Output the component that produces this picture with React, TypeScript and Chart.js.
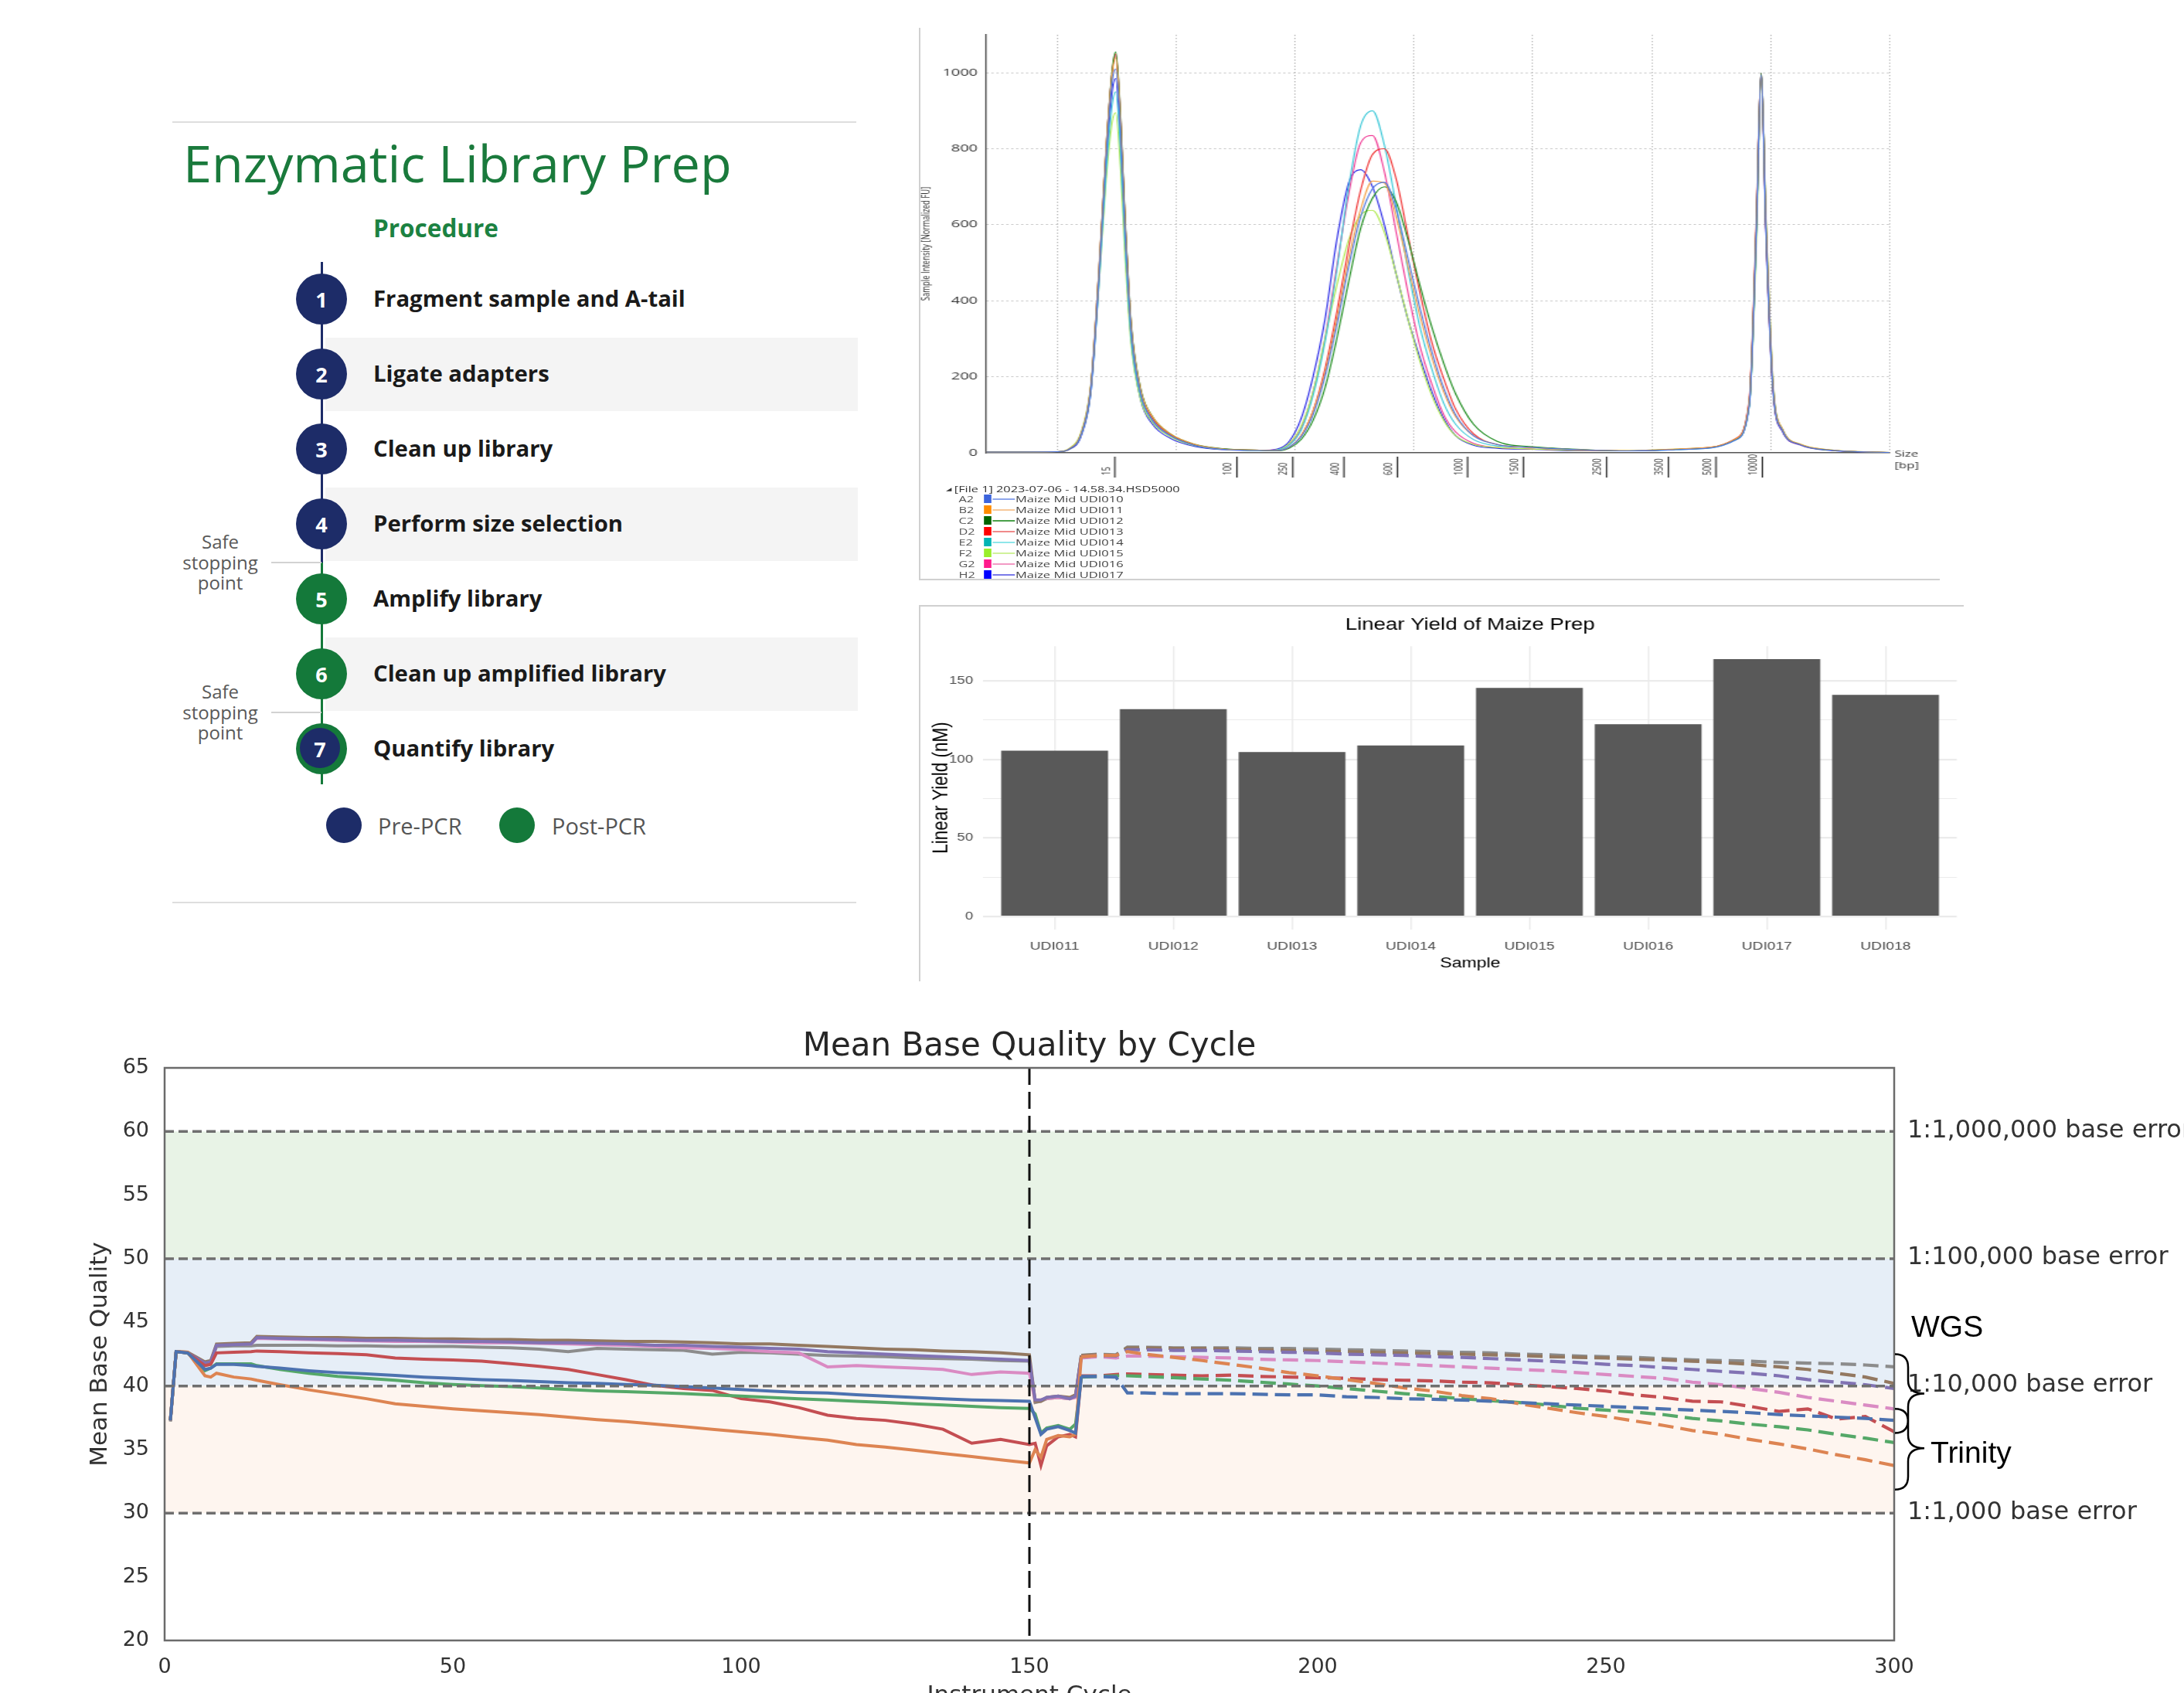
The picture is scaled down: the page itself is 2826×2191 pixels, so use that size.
import React, { useEffect, useRef } from 'react';
import { Chart, registerables } from 'chart.js';

Chart.register(...registerables);

const OPEN = '"Open Sans", "Noto Sans", sans-serif';
const LIB = '"Liberation Sans", Arial, sans-serif';
const DEJ = '"DejaVu Sans", sans-serif';

/* ================= Procedure panel ================= */
const PROC_TITLE = 'Enzymatic Library Prep';
const PROC_SUB = 'Procedure';
const PROC_STEPS = [
  'Fragment sample and A-tail',
  'Ligate adapters',
  'Clean up library',
  'Perform size selection',
  'Amplify library',
  'Clean up amplified library',
  'Quantify library',
];
const PROC_PHASE = ['pre', 'pre', 'pre', 'pre', 'post', 'post', 'both'];
const PROC_SAFE_AFTER = [3, 5];
const PROC_LEGEND = ['Pre-PCR', 'Post-PCR'];

/* ================= Electropherogram ================= */
const EP_FILE = '[File 1] 2023-07-06 - 14.58.34.HSD5000';
const EP_WELLS = ['A2', 'B2', 'C2', 'D2', 'E2', 'F2', 'G2', 'H2'];
const EP_SAMPLES = [
  'Maize Mid UDI010', 'Maize Mid UDI011', 'Maize Mid UDI012', 'Maize Mid UDI013',
  'Maize Mid UDI014', 'Maize Mid UDI015', 'Maize Mid UDI016', 'Maize Mid UDI017',
];
const EP_LADDER_BP = ['15', '100', '250', '400', '600', '1000', '1500', '2500', '3500', '5000', '10000'];
const EP_LADDER_POS = [4.83, 15.1, 19.8, 24.1, 28.6, 34.5, 39.2, 46.2, 51.4, 55.4, 59.3];
const EP_GRID_X = [0, 10, 20, 30, 40, 50, 60, 70];
const EP_Y_TICKS = [0, 200, 400, 600, 800, 1000];
const EP_X = [
  -6, 0, 1, 2, 2.8, 3.5, 4.1, 4.6, 4.9, 5.3, 5.7, 6.2, 7, 8, 9.5, 11.5, 14, 17,
  18.5, 19.5, 20.5, 21.5, 22.5, 23.5, 24.5, 25.5, 26.5, 27.5, 28.5, 29.5, 30.5, 31.5, 32.5, 33.5, 35, 37, 40, 44,
  48, 52, 55, 57, 58.2, 58.8, 59.2, 59.6, 60.2, 61, 62.5, 65, 70,
];
const EP_A2 = [
  2, 3, 10, 48, 165, 465, 780, 975, 1010, 850, 580, 320, 155, 85, 45, 20, 9, 6,
  6, 15, 42, 100, 200, 335, 490, 620, 695, 712, 640, 510, 380, 265, 170, 100, 45, 22, 14, 8,
  5, 8, 13, 33, 125, 590, 995, 590, 165, 58, 21, 7, 1,
];
const EP_B2 = [
  2, 3, 11, 52, 175, 485, 805, 995, 1040, 875, 600, 335, 165, 95, 50, 23, 10, 7,
  6, 15, 45, 110, 210, 350, 510, 640, 715, 710, 620, 490, 360, 250, 160, 95, 45, 22, 14, 8,
  6, 10, 15, 36, 135, 610, 990, 620, 180, 62, 23, 8, 1,
];
const EP_C2 = [
  2, 3, 10, 50, 170, 480, 800, 1005, 1055, 890, 610, 340, 168, 95, 50, 23, 11, 7,
  5, 12, 35, 85, 170, 300, 450, 590, 670, 700, 660, 560, 440, 330, 235, 155, 75, 30, 16, 9,
  5, 9, 14, 35, 130, 600, 1000, 600, 170, 60, 22, 7, 1,
];
const EP_D2 = [
  2, 3, 10, 50, 168, 475, 795, 1000, 1050, 885, 605, 335, 165, 92, 48, 22, 10, 7,
  6, 15, 45, 110, 220, 370, 540, 690, 785, 800, 720, 570, 420, 290, 195, 115, 50, 22, 14, 8,
  5, 9, 15, 37, 140, 620, 998, 590, 165, 58, 21, 7, 1,
];
const EP_E2 = [
  2, 3, 10, 48, 160, 450, 740, 915, 950, 800, 545, 300, 150, 85, 45, 20, 9, 6,
  8, 20, 60, 150, 290, 480, 700, 860, 900, 810, 650, 480, 330, 220, 130, 75, 35, 18, 14, 8,
  5, 8, 13, 33, 125, 590, 1000, 610, 175, 60, 22, 7, 1,
];
const EP_F2 = [
  2, 3, 12, 55, 175, 450, 720, 870, 895, 750, 510, 285, 140, 80, 42, 19, 9, 6,
  8, 25, 70, 160, 300, 440, 560, 625, 638, 580, 470, 350, 240, 150, 85, 45, 22, 14, 10, 6,
  6, 10, 15, 36, 130, 560, 985, 620, 180, 62, 23, 8, 1,
];
const EP_G2 = [
  2, 3, 10, 50, 170, 480, 800, 1000, 1045, 880, 600, 330, 160, 90, 48, 22, 10, 7,
  8, 22, 65, 160, 300, 490, 680, 815, 835, 740, 580, 420, 280, 180, 100, 55, 25, 14, 10, 6,
  5, 9, 14, 35, 135, 605, 1000, 600, 170, 58, 21, 7, 1,
];
const EP_H2 = [
  2, 3, 9, 45, 160, 460, 770, 950, 985, 820, 550, 300, 140, 75, 38, 17, 8, 6,
  10, 30, 90, 200, 350, 560, 710, 745, 700, 600, 470, 350, 250, 160, 90, 45, 20, 12, 9, 5,
  5, 9, 14, 34, 130, 600, 995, 580, 160, 55, 20, 6, 1,
];
const EP_SERIES = [EP_A2, EP_B2, EP_C2, EP_D2, EP_E2, EP_F2, EP_G2, EP_H2];
const EP_LINE = ['#4f78e0', '#f5a24a', '#1e8c1e', '#f03232', '#3cc8d8', '#b2ea52', '#f03c96', '#2a2ae6'];
const EP_SWATCH = ['#3c64dc', '#ff8c00', '#006400', '#ff0000', '#00b4b4', '#9aee2a', '#ff1a8c', '#0000ff'];
const EP_LEG_LINE = ['#8fa6ec', '#f6c89a', '#4aa04a', '#f08a8a', '#8ee6ea', '#d0f29a', '#f29ac4', '#7a7ae8'];

/* ================= Bar chart ================= */
const BAR_TITLE = 'Linear Yield of Maize Prep';
const BAR_SAMPLES = ['UDI011', 'UDI012', 'UDI013', 'UDI014', 'UDI015', 'UDI016', 'UDI017', 'UDI018'];
const BAR_YIELD = [105.5, 132, 104.7, 108.8, 145.5, 122.3, 163.8, 141.1];
const BAR_Y_TICKS = [0, 25, 50, 75, 100, 125, 150];

/* ================= Mean base quality ================= */
const Q_TITLE = 'Mean Base Quality by Cycle';
const Q_R1_X = [1, 2, 4, 7, 8, 9, 12, 15, 16, 20, 25, 30, 35, 40, 45, 50, 55, 60, 65, 70, 75, 80, 85, 90, 95, 100, 105, 110, 115, 120, 125, 130, 135, 140, 145, 150];
const Q_IDX_X = [151, 152, 153, 155, 157, 158];
const Q_R2_X = [159, 162, 165, 167, 170, 175, 180, 185, 190, 195, 200, 205, 210, 215, 220, 225, 230, 235, 240, 245, 250, 255, 260, 265, 270, 275, 280, 285, 290, 295, 300];

const Q_BLUE_R1 = [37.3, 42.7, 42.6, 41.3, 41.4, 41.7, 41.7, 41.6, 41.55, 41.4, 41.2, 41.05, 40.95, 40.83, 40.7, 40.6, 40.5, 40.43, 40.35, 40.25, 40.2, 40.12, 40.05, 39.95, 39.85, 39.72, 39.6, 39.5, 39.45, 39.31, 39.2, 39.1, 39.0, 38.9, 38.85, 38.8];
const Q_ORANGE_R1 = [37.3, 42.7, 42.65, 40.8, 40.7, 41.0, 40.7, 40.55, 40.45, 40.1, 39.7, 39.35, 39.0, 38.6, 38.4, 38.2, 38.05, 37.9, 37.75, 37.55, 37.35, 37.2, 37.0, 36.8, 36.6, 36.4, 36.2, 35.95, 35.75, 35.4, 35.2, 34.95, 34.7, 34.45, 34.2, 33.95];
const Q_GREEN_R1 = [37.3, 42.7, 42.6, 41.2, 41.4, 41.74, 41.74, 41.74, 41.6, 41.3, 41.0, 40.75, 40.6, 40.45, 40.25, 40.12, 40.02, 39.95, 39.85, 39.72, 39.62, 39.55, 39.48, 39.4, 39.3, 39.2, 39.1, 39.0, 38.9, 38.8, 38.7, 38.6, 38.5, 38.4, 38.3, 38.24];
const Q_RED_R1 = [37.3, 42.7, 42.6, 41.6, 41.7, 42.6, 42.65, 42.7, 42.75, 42.7, 42.6, 42.55, 42.45, 42.2, 42.1, 42.05, 41.95, 41.75, 41.55, 41.3, 40.9, 40.5, 40.05, 39.8, 39.65, 39.0, 38.75, 38.3, 37.7, 37.45, 37.3, 37.0, 36.6, 35.5, 35.8, 35.4];
const Q_PURPLE_R1 = [37.3, 42.7, 42.6, 41.8, 41.9, 43.2, 43.25, 43.3, 43.8, 43.75, 43.7, 43.65, 43.6, 43.6, 43.55, 43.5, 43.5, 43.45, 43.4, 43.4, 43.35, 43.3, 43.2, 43.2, 43.1, 43.05, 42.95, 42.9, 42.7, 42.6, 42.5, 42.4, 42.3, 42.2, 42.1, 42.0];
const Q_BROWN_R1 = [37.3, 42.7, 42.65, 41.9, 42.0, 43.3, 43.35, 43.4, 43.9, 43.85, 43.8, 43.8, 43.75, 43.75, 43.7, 43.7, 43.65, 43.65, 43.6, 43.6, 43.55, 43.5, 43.5, 43.45, 43.4, 43.3, 43.3, 43.2, 43.1, 43.0, 42.9, 42.85, 42.75, 42.7, 42.6, 42.45];
const Q_PINK_R1 = [37.3, 42.7, 42.6, 41.8, 41.9, 43.2, 43.3, 43.3, 43.75, 43.7, 43.65, 43.6, 43.55, 43.5, 43.5, 43.45, 43.4, 43.4, 43.35, 43.3, 43.25, 43.2, 43.1, 43.0, 42.95, 42.85, 42.7, 42.6, 41.5, 41.6, 41.5, 41.4, 41.3, 40.9, 41.1, 41.0];
const Q_GRAY_R1 = [37.2, 42.7, 42.6, 41.8, 41.8, 43.1, 43.15, 43.15, 43.2, 43.2, 43.2, 43.15, 43.15, 43.1, 43.1, 43.1, 43.05, 43.0, 42.9, 42.7, 42.95, 42.9, 42.85, 42.8, 42.5, 42.65, 42.6, 42.5, 42.4, 42.35, 42.3, 42.2, 42.15, 42.1, 42.0, 41.95];

const Q_BLUE_IDX = [37.5, 36.2, 36.6, 36.8, 36.5, 36.3];
const Q_ORANGE_IDX = [35.0, 34.4, 35.8, 36.1, 36.0, 36.2];
const Q_GREEN_IDX = [37.8, 36.3, 36.7, 36.9, 36.6, 37.0];
const Q_RED_IDX = [35.5, 33.75, 35.3, 36.0, 36.2, 36.0];
const Q_PURPLE_IDX = [38.9, 38.9, 39.1, 39.2, 39.0, 39.2];
const Q_BROWN_IDX = [38.8, 38.8, 39.1, 39.2, 39.1, 39.3];
const Q_PINK_IDX = [38.8, 38.9, 39.0, 39.1, 39.0, 39.1];
const Q_GRAY_IDX = [38.7, 38.8, 39.0, 39.1, 39.0, 39.2];

const Q_BLUE_R2 = [40.75, 40.75, 40.7, 39.45, 39.45, 39.4, 39.4, 39.4, 39.35, 39.3, 39.3, 39.15, 39.1, 39.0, 38.95, 38.9, 38.8, 38.7, 38.6, 38.5, 38.4, 38.3, 38.2, 38.1, 38.0, 37.9, 37.75, 37.65, 37.55, 37.45, 37.3];
const Q_ORANGE_R2 = [42.3, 42.4, 42.4, 42.7, 42.5, 42.25, 42.0, 41.7, 41.4, 41.05, 40.8, 40.5, 40.2, 39.85, 39.6, 39.25, 39.0, 38.6, 38.25, 37.9, 37.6, 37.25, 36.9, 36.5, 36.2, 35.8, 35.45, 35.05, 34.6, 34.2, 33.75];
const Q_GREEN_R2 = [40.7, 40.75, 40.8, 40.8, 40.75, 40.65, 40.55, 40.45, 40.3, 40.15, 40.0, 39.8, 39.6, 39.4, 39.2, 39.0, 38.85, 38.7, 38.5, 38.25, 38.1, 37.95, 37.75, 37.45, 37.25, 37.0, 36.8, 36.55, 36.2, 35.9, 35.55];
const Q_RED_R2 = [40.8, 40.8, 40.9, 40.95, 40.9, 40.85, 40.8, 40.85, 40.75, 40.7, 40.65, 40.6, 40.5, 40.45, 40.4, 40.3, 40.25, 40.1, 39.95, 39.8, 39.6, 39.3, 39.1, 38.8, 38.75, 38.4, 38.0, 38.2, 37.4, 37.6, 36.4];
const Q_PURPLE_R2 = [42.3, 42.4, 42.35, 42.85, 42.85, 42.8, 42.8, 42.75, 42.7, 42.65, 42.6, 42.5, 42.45, 42.4, 42.3, 42.25, 42.15, 42.05, 41.95, 41.85, 41.7, 41.6, 41.45, 41.3, 41.15, 41.0, 40.8, 40.5, 40.3, 40.1, 39.8];
const Q_BROWN_R2 = [42.4, 42.45, 42.4, 43.0, 43.0, 42.95, 42.95, 42.9, 42.85, 42.8, 42.75, 42.7, 42.65, 42.6, 42.55, 42.5, 42.45, 42.4, 42.3, 42.25, 42.2, 42.1, 42.05, 41.95, 41.85, 41.7, 41.5, 41.3, 41.0, 40.7, 40.2];
const Q_PINK_R2 = [42.2, 42.3, 42.2, 42.35, 42.35, 42.3, 42.25, 42.2, 42.1, 42.05, 42.0, 41.9, 41.8, 41.7, 41.6, 41.5, 41.4, 41.3, 41.2, 41.05, 40.9, 40.75, 40.6, 40.3, 40.1, 39.8, 39.5, 39.1, 38.8, 38.5, 38.2];
const Q_GRAY_R2 = [42.4, 42.5, 42.45, 43.05, 43.05, 43.0, 43.0, 43.0, 42.95, 42.95, 42.9, 42.85, 42.8, 42.75, 42.7, 42.65, 42.6, 42.5, 42.45, 42.35, 42.3, 42.25, 42.15, 42.05, 42.0, 41.95, 41.85, 41.8, 41.75, 41.65, 41.5];

const Q_R1 = [Q_BLUE_R1, Q_ORANGE_R1, Q_GREEN_R1, Q_RED_R1, Q_PURPLE_R1, Q_BROWN_R1, Q_PINK_R1, Q_GRAY_R1];
const Q_IDX = [Q_BLUE_IDX, Q_ORANGE_IDX, Q_GREEN_IDX, Q_RED_IDX, Q_PURPLE_IDX, Q_BROWN_IDX, Q_PINK_IDX, Q_GRAY_IDX];
const Q_R2 = [Q_BLUE_R2, Q_ORANGE_R2, Q_GREEN_R2, Q_RED_R2, Q_PURPLE_R2, Q_BROWN_R2, Q_PINK_R2, Q_GRAY_R2];
const Q_COLORS = ['#4c72b0', '#dd8452', '#55a868', '#c44e52', '#8172b3', '#937860', '#da8bc3', '#8c8c8c'];

const Q_REF_VALUES = [60, 50, 40, 30];
const Q_REF_LABELS = ['1:1,000,000 base error', '1:100,000 base error', '1:10,000 base error', '1:1,000 base error'];
const Q_BAND_LO = [50, 40, 30];
const Q_BAND_HI = [60, 50, 40];
const Q_BAND_COLORS = ['#e8f3e6', '#e6eef7', '#fef5ef'];
const Q_READ_SPLIT = 150;
const Q_GROUPS = ['WGS', 'Trinity'];
const Q_GROUP_TOP = [42.5, 38.2];
const Q_GROUP_BOT = [36.3, 31.85];
const Q_GROUP_MID = [39.4, 35.1];
const Q_GROUP_LABEL_Y = [44.5, 34.6];

/* ================= Components ================= */

function Txt(props: any) {
  const { x, cy, size, weight = 400, color = '#000', family = OPEN, children } = props;
  return (
    <div
      style={{
        position: 'absolute', left: x, top: cy - 50, height: 100, display: 'flex', alignItems: 'center',
        fontFamily: family, fontSize: size, fontWeight: weight, color, lineHeight: 1, whiteSpace: 'nowrap',
      }}
    >
      {children}
    </div>
  );
}

function CTxt(props: any) {
  const { cx, cy, size, weight = 400, color = '#000', family = OPEN, children } = props;
  return (
    <div
      style={{
        position: 'absolute', left: cx - 150, width: 300, top: cy - 50, height: 100, display: 'flex',
        alignItems: 'center', justifyContent: 'center', fontFamily: family, fontSize: size, fontWeight: weight,
        color, lineHeight: 1, whiteSpace: 'nowrap',
      }}
    >
      {children}
    </div>
  );
}

function Box(props: any) {
  const { l, t, w, h, bg, r } = props;
  return <div style={{ position: 'absolute', left: l, top: t, width: w, height: h, background: bg, borderRadius: r }} />;
}

function Procedure() {
  const NAVY = '#1d2c68';
  const GREEN = '#14793a';
  const cx = 416;
  const y0 = 387;
  const dy = 97;
  const els: any[] = [];
  els.push(<Box key="hr1" l={223} t={157} w={885} h={2} bg="#dedede" />);
  els.push(<Box key="hr2" l={223} t={1167} w={885} h={2} bg="#dedede" />);
  els.push(<Txt key="title" x={237} cy={210} size={66.5} color="#1a7a3c">{PROC_TITLE}</Txt>);
  els.push(<Txt key="sub" x={483} cy={295} size={31.5} weight={700} color="#1c8242">{PROC_SUB}</Txt>);
  PROC_STEPS.forEach((s, i) => {
    const cy = y0 + i * dy;
    if (i % 2 === 1) els.push(<Box key={'bg' + i} l={421} t={cy - 47.5} w={689} h={95} bg="#f4f4f4" />);
  });
  const split = y0 + 3.5 * dy + 1;
  els.push(<Box key="vl1" l={cx - 1.5} t={339} w={3} h={split - 339} bg={NAVY} />);
  els.push(<Box key="vl2" l={cx - 1.5} t={split} w={3} h={1015 - split} bg={GREEN} />);
  PROC_SAFE_AFTER.forEach((k) => {
    const y = y0 + (k + 0.5) * dy + 1;
    els.push(<Box key={'sl' + k} l={351} t={y - 1} w={cx - 351} h={2} bg="#d2d2d2" />);
    ['Safe', 'stopping', 'point'].forEach((w, j) => {
      els.push(<CTxt key={'st' + k + j} cx={285} cy={y + (j - 1) * 26.5} size={24} color="#595959">{w}</CTxt>);
    });
  });
  PROC_STEPS.forEach((s, i) => {
    const cy = y0 + i * dy;
    const ph = PROC_PHASE[i];
    els.push(<Box key={'c' + i} l={cx - 33} t={cy - 33} w={66} h={66} r="50%" bg={ph === 'pre' ? NAVY : GREEN} />);
    if (ph === 'both') els.push(<Box key={'ci' + i} l={cx - 28} t={cy - 27} w={52} h={52} r="50%" bg={NAVY} />);
    els.push(<CTxt key={'n' + i} cx={cx - (ph === 'both' ? 2 : 0)} cy={cy} size={27} weight={700} color="#fff">{String(i + 1)}</CTxt>);
    els.push(<Txt key={'t' + i} x={483} cy={cy} size={29.3} weight={700} color="#1a1a1a">{s}</Txt>);
  });
  els.push(<Box key="lg1" l={445 - 23} t={1068 - 23} w={46} h={46} r="50%" bg={NAVY} />);
  els.push(<Txt key="lt1" x={489} cy={1068} size={29} color="#555">{PROC_LEGEND[0]}</Txt>);
  els.push(<Box key="lg2" l={669 - 23} t={1068 - 23} w={46} h={46} r="50%" bg={GREEN} />);
  els.push(<Txt key="lt2" x={714} cy={1068} size={29} color="#555">{PROC_LEGEND[1]}</Txt>);
  return <>{els}</>;
}

function Electro() {
  const ref = useRef<HTMLCanvasElement>(null);
  useEffect(() => {
    const ladderPlugin = {
      id: 'ladder',
      afterDraw(chart: any) {
        const { ctx, chartArea: a, scales } = chart;
        const x = scales.x;
        ctx.save();
        ctx.strokeStyle = '#222';
        ctx.lineWidth = 1.1;
        EP_LADDER_POS.forEach((p, i) => {
          const px = x.getPixelForValue(p);
          ctx.beginPath();
          ctx.moveTo(px, a.bottom + 5);
          ctx.lineTo(px, a.bottom + 32);
          ctx.stroke();
          ctx.save();
          ctx.translate(px - 7, a.bottom + 29);
          ctx.rotate(-Math.PI / 2);
          ctx.font = '9.5px ' + OPEN;
          ctx.fillStyle = '#333';
          ctx.textAlign = 'left';
          ctx.textBaseline = 'middle';
          ctx.fillText(EP_LADDER_BP[i], 0, 0);
          ctx.restore();
        });
        ctx.font = '10.5px ' + OPEN;
        ctx.fillStyle = '#333';
        ctx.textAlign = 'left';
        ctx.textBaseline = 'middle';
        ctx.fillText('Size', a.right + 4, a.bottom + 2);
        ctx.fillText('[bp]', a.right + 4, a.bottom + 17);
        ctx.restore();
      },
    };
    const chart = new Chart(ref.current as HTMLCanvasElement, {
      type: 'line',
      data: {
        datasets: EP_SERIES.map((ys, i) => ({
          label: EP_SAMPLES[i],
          data: EP_X.map((x, j) => ({ x, y: ys[j] })),
          borderColor: EP_LINE[i],
          borderWidth: 1.1,
          pointRadius: 0,
          fill: false,
          cubicInterpolationMode: 'monotone',
        })),
      },
      options: {
        animation: false,
        responsive: false,
        devicePixelRatio: 1,
        layout: { padding: { top: 15, right: 46.6, left: 0, bottom: 0 } },
        plugins: { legend: { display: false }, tooltip: { enabled: false } },
        scales: {
          x: {
            type: 'linear', min: -6, max: 70,
            afterBuildTicks: (s: any) => { s.ticks = EP_GRID_X.map((v) => ({ value: v })); },
            afterFit: (s: any) => { s.height = 164; },
            ticks: { display: false },
            grid: { color: '#b9b9b9', lineWidth: 1, drawTicks: false },
            border: { display: true, color: '#555', width: 1.6, dash: [1.5, 2.5] },
          },
          y: {
            min: 0, max: 1100,
            afterBuildTicks: (s: any) => { s.ticks = EP_Y_TICKS.map((v) => ({ value: v })); },
            afterFit: (s: any) => { s.width = 53.75; },
            ticks: { callback: (v: any) => String(v), font: { family: OPEN, size: 12.5 }, color: '#333', padding: 6.75 },
            grid: { color: (c: any) => (c.tick && c.tick.value === 0 ? 'rgba(0,0,0,0)' : '#b9b9b9'), lineWidth: 1, drawTicks: false },
            border: { display: true, color: '#555', width: 1.2, dash: [1.5, 2.5] },
            title: { display: true, text: 'Sample Intensity [Normalized FU]', font: { family: OPEN, size: 9.5 }, color: '#333', padding: { top: 0, bottom: 0 } },
          },
        },
      } as any,
      plugins: [ladderPlugin],
    } as any);
    return () => chart.destroy();
  }, []);
  return (
    <div style={{ position: 'absolute', left: 1190, top: 30, width: 831, height: 720, transform: 'scaleX(1.6)', transformOrigin: '0 0' }}>
      <canvas ref={ref} width={831} height={720} style={{ display: 'block' }} />
      <div style={{ position: 'absolute', left: 21, top: 603 - 8, height: 16, display: 'flex', alignItems: 'center', fontFamily: OPEN, fontSize: 10.2, color: '#333', whiteSpace: 'nowrap', lineHeight: 1 }}>
        <span style={{ fontSize: 6, marginRight: 2 }}>◢</span>
        {EP_FILE}
      </div>
      {EP_WELLS.map((w, i) => {
        const cy = 615.8 + i * 14;
        return (
          <React.Fragment key={w}>
            <div style={{ position: 'absolute', left: 31.5, top: cy - 8, height: 16, display: 'flex', alignItems: 'center', fontFamily: OPEN, fontSize: 10.2, color: '#555', lineHeight: 1 }}>{w}</div>
            <div style={{ position: 'absolute', left: 52, top: cy - 5.5, width: 5.5, height: 11, background: EP_SWATCH[i] }} />
            <div style={{ position: 'absolute', left: 59, top: cy - 0.9, width: 18, height: 1.8, background: EP_LEG_LINE[i] }} />
            <div style={{ position: 'absolute', left: 77.5, top: cy - 8, height: 16, display: 'flex', alignItems: 'center', fontFamily: OPEN, fontSize: 10.3, color: '#444', whiteSpace: 'nowrap', lineHeight: 1 }}>{EP_SAMPLES[i]}</div>
          </React.Fragment>
        );
      })}
    </div>
  );
}

function YieldBars() {
  const ref = useRef<HTMLCanvasElement>(null);
  useEffect(() => {
    const titlePlugin = {
      id: 'barTitle',
      afterDraw(chart: any) {
        const { ctx, chartArea: a } = chart;
        ctx.save();
        ctx.font = '21.6px ' + LIB;
        ctx.fillStyle = '#000';
        ctx.textAlign = 'center';
        ctx.textBaseline = 'middle';
        ctx.fillText(BAR_TITLE, (a.left + a.right) / 2, 25);
        ctx.restore();
      },
    };
    const chart = new Chart(ref.current as HTMLCanvasElement, {
      type: 'bar',
      data: {
        datasets: [{
          label: 'Linear Yield',
          data: BAR_YIELD.map((v, i) => ({ x: i + 1, y: v })),
          backgroundColor: '#595959',
          borderWidth: 0,
          barPercentage: 0.9,
          categoryPercentage: 1,
        }],
      },
      options: {
        animation: false,
        responsive: false,
        devicePixelRatio: 1,
        layout: { padding: { top: 52.3, right: 6.6, left: 0, bottom: 11.8 } },
        plugins: { legend: { display: false }, tooltip: { enabled: false } },
        scales: {
          x: {
            type: 'linear', min: 0.4, max: 8.6, offset: false,
            afterBuildTicks: (s: any) => { s.ticks = BAR_SAMPLES.map((_, i) => ({ value: i + 1 })); },
            afterFit: (s: any) => { s.height = 55.5; },
            ticks: {
              callback: (v: any) => BAR_SAMPLES[Math.round(v) - 1],
              font: { family: LIB, size: 15 }, color: '#4d4d4d', padding: 13.5, maxRotation: 0, autoSkip: false,
            },
            grid: { color: '#ebebeb', lineWidth: 1.5, drawTicks: false, offset: false },
            border: { display: false },
            title: { display: true, text: 'Sample', font: { family: LIB, size: 18 }, color: '#000', padding: { top: 0, bottom: 0 } },
          },
          y: {
            min: -8.2, max: 172,
            afterBuildTicks: (s: any) => { s.ticks = BAR_Y_TICKS.map((v) => ({ value: v })); },
            afterFit: (s: any) => { s.width = 64.4; },
            ticks: {
              callback: (v: any) => (v % 50 === 0 ? String(v) : ''),
              font: { family: LIB, size: 14.5 }, color: '#4d4d4d', padding: 10.4, autoSkip: false,
            },
            grid: { color: '#ebebeb', lineWidth: (c: any) => (c.tick && c.tick.value % 50 === 0 ? 2.2 : 1.1), drawTicks: false },
            border: { display: false },
            title: { display: true, text: 'Linear Yield (nM)', font: { family: LIB, size: 22.5 }, color: '#000', padding: { top: 8, bottom: 0 } },
          },
        },
      } as any,
      plugins: [titlePlugin],
    } as any);
    return () => chart.destroy();
  }, []);
  return (
    <div style={{ position: 'absolute', left: 1190, top: 784, width: 1055, height: 486, transform: 'scaleX(1.28)', transformOrigin: '0 0' }}>
      <canvas ref={ref} width={1055} height={486} style={{ display: 'block' }} />
    </div>
  );
}

function braceRight(ctx: any, x: number, yTop: number, yBot: number, yMid: number, w: number, tip: number) {
  const r = Math.min(w, (yMid - yTop) / 2, (yBot - yMid) / 2);
  ctx.beginPath();
  ctx.moveTo(x, yTop);
  ctx.quadraticCurveTo(x + w, yTop, x + w, yTop + r);
  ctx.lineTo(x + w, yMid - r);
  ctx.quadraticCurveTo(x + w, yMid, x + tip, yMid);
  ctx.moveTo(x + tip, yMid);
  ctx.quadraticCurveTo(x + w, yMid, x + w, yMid + r);
  ctx.lineTo(x + w, yBot - r);
  ctx.quadraticCurveTo(x + w, yBot, x, yBot);
  ctx.stroke();
}

function Quality() {
  const ref = useRef<HTMLCanvasElement>(null);
  useEffect(() => {
    const decor = {
      id: 'qualityDecor',
      beforeDatasetsDraw(chart: any) {
        const { ctx, chartArea: a, scales } = chart;
        const y = scales.y;
        ctx.save();
        Q_BAND_LO.forEach((lo, i) => {
          const top = y.getPixelForValue(Q_BAND_HI[i]);
          const bot = y.getPixelForValue(lo);
          ctx.fillStyle = Q_BAND_COLORS[i];
          ctx.fillRect(a.left, top, a.right - a.left, bot - top);
        });
        ctx.restore();
      },
      afterDatasetsDraw(chart: any) {
        const { ctx, chartArea: a, scales } = chart;
        const x = scales.x;
        const y = scales.y;
        ctx.save();
        ctx.strokeStyle = '#6f6f6f';
        ctx.lineWidth = 3.5;
        ctx.setLineDash([12, 6]);
        Q_REF_VALUES.forEach((v) => {
          const py = y.getPixelForValue(v);
          ctx.beginPath();
          ctx.moveTo(a.left, py);
          ctx.lineTo(a.right, py);
          ctx.stroke();
        });
        ctx.strokeStyle = '#111';
        ctx.lineWidth = 3;
        ctx.setLineDash([22, 9]);
        const px = x.getPixelForValue(Q_READ_SPLIT);
        ctx.beginPath();
        ctx.moveTo(px, a.top);
        ctx.lineTo(px, a.bottom);
        ctx.stroke();
        ctx.setLineDash([]);
        ctx.strokeStyle = '#6b6b6b';
        ctx.lineWidth = 2.5;
        ctx.strokeRect(a.left, a.top, a.right - a.left, a.bottom - a.top);
        ctx.restore();
      },
      afterDraw(chart: any) {
        const { ctx, chartArea: a, scales } = chart;
        const y = scales.y;
        ctx.save();
        ctx.fillStyle = '#262626';
        ctx.font = '42px ' + DEJ;
        ctx.textAlign = 'center';
        ctx.textBaseline = 'middle';
        ctx.fillText(Q_TITLE, (a.left + a.right) / 2, a.top - 27);
        ctx.font = '32px ' + DEJ;
        ctx.fillStyle = '#333';
        ctx.textAlign = 'left';
        Q_REF_VALUES.forEach((v, i) => {
          ctx.fillText(Q_REF_LABELS[i], a.right + 17, y.getPixelForValue(v) - 1);
        });
        ctx.strokeStyle = '#000';
        ctx.lineWidth = 2.5;
        Q_GROUPS.forEach((g, i) => {
          braceRight(ctx, a.right + 1, y.getPixelForValue(Q_GROUP_TOP[i]), y.getPixelForValue(Q_GROUP_BOT[i]), y.getPixelForValue(Q_GROUP_MID[i]), 17, 38);
        });
        ctx.fillStyle = '#000';
        ctx.font = '39px ' + LIB;
        ctx.fillText(Q_GROUPS[0], a.right + 22, y.getPixelForValue(Q_GROUP_LABEL_Y[0]));
        ctx.fillText(Q_GROUPS[1], a.right + 47, y.getPixelForValue(Q_GROUP_LABEL_Y[1]));
        ctx.restore();
      },
    };
    const datasets: any[] = [];
    Q_COLORS.forEach((c, i) => {
      const xs = [...Q_R1_X, ...Q_IDX_X, Q_R2_X[0]];
      const ys = [...Q_R1[i], ...Q_IDX[i], Q_R2[i][0]];
      datasets.push({
        label: 'R1 ' + i,
        data: xs.map((x, j) => ({ x, y: ys[j] })),
        borderColor: c, borderWidth: 4, pointRadius: 0, fill: false, tension: 0,
      });
      datasets.push({
        label: 'R2 ' + i,
        data: Q_R2_X.map((x, j) => ({ x, y: Q_R2[i][j] })),
        borderColor: c, borderWidth: 4.2, pointRadius: 0, fill: false, tension: 0, borderDash: [20, 9],
      });
    });
    const chart = new Chart(ref.current as HTMLCanvasElement, {
      type: 'line',
      data: { datasets },
      options: {
        animation: false,
        responsive: false,
        devicePixelRatio: 1,
        layout: { padding: { top: 82, right: 375, left: 0, bottom: 0 } },
        plugins: { legend: { display: false }, tooltip: { enabled: false } },
        scales: {
          x: {
            type: 'linear', min: 0, max: 300,
            afterFit: (s: any) => { s.height = 137; },
            ticks: { stepSize: 50, font: { family: DEJ, size: 27 }, color: '#333', padding: 18.5 },
            grid: { display: false, drawTicks: false },
            border: { display: false },
            title: { display: true, text: 'Instrument Cycle', font: { family: DEJ, size: 31 }, color: '#333', padding: { top: 0, bottom: 46 } },
          },
          y: {
            min: 20, max: 65,
            afterFit: (s: any) => { s.width = 213; },
            ticks: { stepSize: 5, font: { family: DEJ, size: 27 }, color: '#333', padding: 20 },
            grid: { display: false, drawTicks: false },
            border: { display: false },
            title: { display: true, text: 'Mean Base Quality', font: { family: DEJ, size: 31 }, color: '#333', padding: { top: 111.4, bottom: 0 } },
          },
        },
      } as any,
      plugins: [decor],
    } as any);
    return () => chart.destroy();
  }, []);
  return (
    <div style={{ position: 'absolute', left: 0, top: 1300, width: 2826, height: 960 }}>
      <canvas ref={ref} width={2826} height={960} style={{ display: 'block' }} />
    </div>
  );
}

export default function App() {
  return (
    <div style={{ position: 'fixed', left: 0, top: 0, width: 2826, height: 2191, overflow: 'hidden', background: '#fff', fontFamily: OPEN }}>
      <Procedure />
      <div style={{ position: 'absolute', left: 1189, top: 36, width: 1.5, height: 714, background: '#d0d0d0' }} />
      <div style={{ position: 'absolute', left: 1189, top: 749, width: 1321, height: 1.5, background: '#d0d0d0' }} />
      <Electro />
      <div style={{ position: 'absolute', left: 1189, top: 783, width: 1352, height: 1.5, background: '#d0d0d0' }} />
      <div style={{ position: 'absolute', left: 1189, top: 783, width: 1.5, height: 487, background: '#d0d0d0' }} />
      <YieldBars />
      <Quality />
    </div>
  );
}
